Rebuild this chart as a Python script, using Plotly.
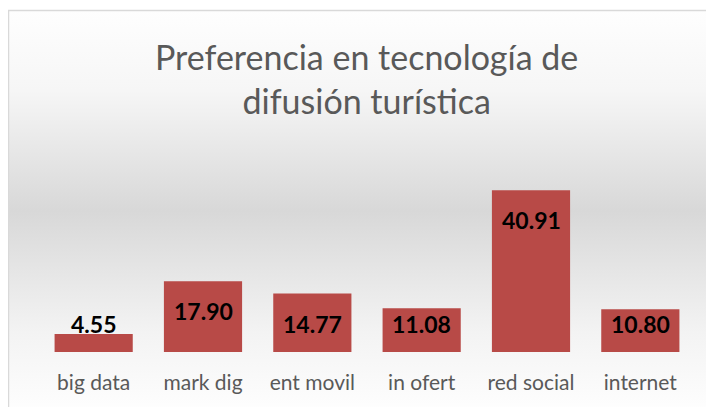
import base64
import plotly.graph_objects as go

# data
categorias = ['big data', 'mark dig', 'ent movil', 'in ofert', 'red social', 'internet']
valores = [4.55, 17.90, 14.77, 11.08, 40.91, 10.80]
etiquetas = ['4.55', '17.90', '14.77', '11.08', '40.91', '10.80']

# the page body has an 8px margin, so the figure starts at (8, 8) in the window
OFF = 8
WIN_W, WIN_H = 714, 407
W, H = WIN_W - OFF, WIN_H - OFF
ML, MR, MT, MB = 31, 19, 166, 55
YMAX = 45.0
px_unit = (H - MT - MB) / YMAX

# window px -> paper coords
def px(x):
    return (x - OFF - ML) / (W - ML - MR)

def py(y):
    return (H - MB - (y - OFF)) / (H - MT - MB)

# background gradient of the chart area (white -> grey -> white)
svg = ('<svg xmlns="http://www.w3.org/2000/svg" width="10" height="100" preserveAspectRatio="none">'
       '<defs><linearGradient id="g" x1="0" y1="0" x2="0" y2="1">'
       '<stop offset="0" stop-color="#fefefe"/>'
       '<stop offset="0.2" stop-color="#f6f6f6"/>'
       '<stop offset="0.5" stop-color="#d8d8d8"/>'
       '<stop offset="0.8" stop-color="#f3f3f3"/>'
       '<stop offset="1" stop-color="#fefefe"/>'
       '</linearGradient></defs>'
       '<rect width="10" height="100" fill="url(#g)"/></svg>')
src = 'data:image/svg+xml;base64,' + base64.b64encode(svg.encode()).decode()

fig = go.Figure()
fig.add_trace(go.Bar(
    x=categorias, y=valores,
    marker=dict(color='#b84a47', line=dict(width=0)),
    width=0.715,
    hoverinfo='skip',
))

# data labels: near the top of the bar, but never lower than near the base
for c, v, t in zip(categorias, valores, etiquetas):
    ly = max(v - 30 / px_unit, 28 / px_unit)
    fig.add_annotation(x=c, y=ly, text='<b>' + t + '</b>', showarrow=False,
                       yanchor='middle', font=dict(family='Lato', size=23, color='#000000'))

fig.add_layout_image(dict(source=src, xref='paper', yref='paper',
                          x=px(8), y=py(10), sizex=px(WIN_W + 5) - px(8), sizey=py(10) - py(WIN_H + 5),
                          xanchor='left', yanchor='top', sizing='stretch', layer='below'))
fig.add_shape(type='rect', xref='paper', yref='paper',
              x0=px(8.5), x1=px(WIN_W + 10), y0=py(WIN_H + 10), y1=py(10.5),
              line=dict(color='#d9d9d9', width=1.5), fillcolor='rgba(0,0,0,0)')

fig.add_annotation(xref='paper', yref='paper', x=px(366), y=py(79), showarrow=False,
                   xanchor='center', yanchor='middle',
                   text='Preferencia en tecnología de<br>difusión turística',
                   font=dict(family='Lato', size=34, color='#595959'))

fig.update_layout(
    width=W, height=H,
    margin=dict(l=ML, r=MR, t=MT, b=MB),
    paper_bgcolor='white', plot_bgcolor='rgba(0,0,0,0)',
    showlegend=False, bargap=0.285,
)
fig.update_xaxes(showgrid=False, showline=False, ticks='', zeroline=False,
                 tickfont=dict(family='Lato', size=21, color='#595959'),
                 ticklabelstandoff=16)
fig.update_yaxes(range=[0, YMAX], visible=False)

fig.write_html('out.html')
